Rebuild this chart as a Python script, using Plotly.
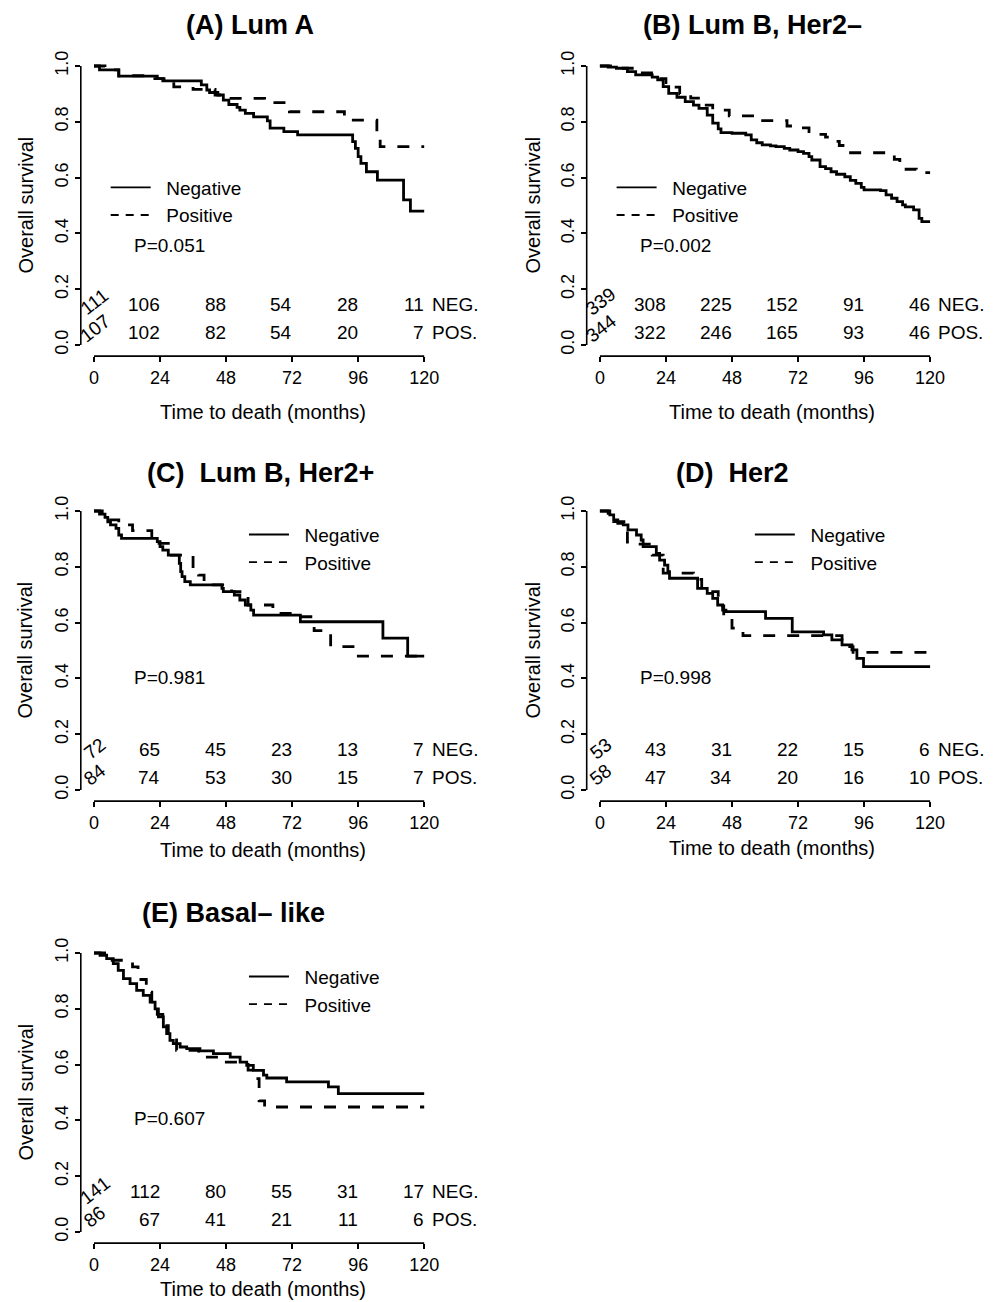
import plotly.graph_objects as go

# The page body has an 8px default margin, so the figure is sized to fill the rest of the window.
OFF = 8
W, H = 1000 - OFF, 1302 - OFF

# ---------------- data ----------------
x_ticks = [0, 24, 48, 72, 96, 120]
y_ticks = [0.0, 0.2, 0.4, 0.6, 0.8, 1.0]

# (A) Lum A
a_neg_t = [0, 2, 9, 23, 25, 39, 41, 42, 45, 47, 49, 52, 53, 55, 58, 63, 64, 69, 74, 94, 95, 96, 97, 99, 103, 112.5, 115, 120]
a_neg_s = [1.0, 0.986, 0.964, 0.955, 0.947, 0.932, 0.914, 0.905, 0.896, 0.878, 0.862, 0.852, 0.842, 0.83, 0.818, 0.803, 0.777, 0.765, 0.753, 0.729, 0.705, 0.675, 0.651, 0.621, 0.591, 0.52, 0.48, 0.48]
a_pos_t = [0, 4, 9, 20, 29, 36, 44, 48, 62, 71, 91, 102.8, 104, 120]
a_pos_s = [1.0, 0.986, 0.965, 0.955, 0.925, 0.916, 0.896, 0.884, 0.869, 0.836, 0.806, 0.75, 0.711, 0.711]
a_neg_risk = [111, 106, 88, 54, 28, 11]
a_pos_risk = [107, 102, 82, 54, 20, 7]

# (B) Lum B, Her2-
b_neg_t = [0, 3, 6, 10, 13, 19, 21, 23, 25, 28, 31, 34, 36, 39, 41, 43, 44, 48, 53, 55, 57, 59, 62, 64, 67, 69, 72, 74, 76, 77, 80, 82, 84, 86, 89, 91, 93, 95, 96, 102, 104, 106, 108, 110, 111, 114, 116, 117, 120]
b_neg_s = [1.0, 0.996, 0.992, 0.98, 0.968, 0.96, 0.95, 0.926, 0.902, 0.888, 0.872, 0.86, 0.848, 0.824, 0.795, 0.775, 0.761, 0.759, 0.753, 0.735, 0.725, 0.717, 0.714, 0.711, 0.705, 0.699, 0.693, 0.687, 0.675, 0.663, 0.639, 0.632, 0.621, 0.612, 0.603, 0.59, 0.579, 0.565, 0.556, 0.553, 0.538, 0.526, 0.514, 0.502, 0.495, 0.484, 0.454, 0.442, 0.442]
b_pos_t = [0, 5, 13, 21, 24, 29, 33, 38, 41, 47, 57, 68, 72, 76, 78, 82, 85, 87, 90, 105, 107, 109, 115, 120]
b_pos_s = [1.0, 0.992, 0.975, 0.955, 0.924, 0.9, 0.885, 0.86, 0.842, 0.821, 0.804, 0.785, 0.778, 0.765, 0.755, 0.745, 0.73, 0.715, 0.689, 0.68, 0.665, 0.63, 0.618, 0.618]
b_neg_risk = [339, 308, 225, 152, 91, 46]
b_pos_risk = [344, 322, 246, 165, 93, 46]

# (C) Lum B, Her2+
c_neg_t = [0, 2, 4, 5, 6, 8, 9, 10, 12, 23, 24, 25, 27, 30, 31, 31.5, 32, 33, 35, 46.5, 47, 51, 53, 55, 57, 58, 59, 75, 105, 114, 120]
c_neg_s = [1.0, 0.989, 0.977, 0.961, 0.95, 0.938, 0.914, 0.902, 0.902, 0.89, 0.872, 0.86, 0.842, 0.842, 0.812, 0.783, 0.765, 0.747, 0.735, 0.723, 0.711, 0.699, 0.681, 0.663, 0.645, 0.627, 0.627, 0.603, 0.544, 0.48, 0.48]
c_pos_t = [0, 3, 6, 9, 14, 21, 27, 36, 38, 40, 50, 56, 65, 67, 75, 80, 86, 95, 120]
c_pos_s = [1.0, 0.985, 0.968, 0.95, 0.93, 0.884, 0.842, 0.79, 0.77, 0.735, 0.711, 0.663, 0.657, 0.633, 0.621, 0.571, 0.514, 0.48, 0.48]
c_neg_risk = [72, 65, 45, 23, 13, 7]
c_pos_risk = [84, 74, 53, 30, 15, 7]

# (D) Her2
d_neg_t = [0, 3.6, 5, 6.5, 8.5, 10.2, 13.3, 15, 15.7, 20.5, 21.7, 23.5, 24.7, 25.3, 35.5, 39, 41, 42.8, 44.6, 45.8, 60.2, 69.9, 81.3, 84.3, 88, 91.6, 93.4, 95.8, 120]
d_neg_s = [1.0, 0.986, 0.968, 0.956, 0.95, 0.932, 0.914, 0.896, 0.872, 0.848, 0.824, 0.806, 0.783, 0.759, 0.723, 0.705, 0.687, 0.663, 0.645, 0.639, 0.615, 0.567, 0.556, 0.538, 0.52, 0.502, 0.472, 0.442, 0.442]
d_pos_t = [0, 3, 5, 10, 19, 23, 34, 37, 43, 45, 48, 52, 88, 92, 120]
d_pos_s = [1.0, 0.98, 0.962, 0.881, 0.842, 0.777, 0.755, 0.711, 0.66, 0.62, 0.58, 0.553, 0.514, 0.493, 0.493]
d_neg_risk = [53, 43, 31, 22, 15, 6]
d_pos_risk = [58, 47, 34, 20, 16, 10]

# (E) Basal-like
e_neg_t = [0, 2.2, 4.6, 7, 8.8, 10.7, 13.1, 15.5, 17.9, 20.4, 22.2, 23.4, 25.2, 26.4, 27.6, 28.8, 31.3, 33.7, 38.5, 43.4, 49.5, 53.1, 55.5, 57.9, 61.6, 62.8, 70, 85.2, 88.8, 120]
e_neg_s = [1.0, 0.992, 0.98, 0.962, 0.938, 0.908, 0.89, 0.866, 0.848, 0.824, 0.8, 0.771, 0.735, 0.711, 0.687, 0.675, 0.663, 0.657, 0.649, 0.639, 0.627, 0.609, 0.597, 0.579, 0.562, 0.552, 0.538, 0.52, 0.496, 0.496]
e_pos_t = [0, 6, 14, 16, 19, 21, 23, 25, 27, 30, 38, 47, 56, 58, 60, 62, 120]
e_pos_s = [1.0, 0.974, 0.95, 0.905, 0.86, 0.82, 0.78, 0.74, 0.7, 0.651, 0.627, 0.609, 0.58, 0.55, 0.47, 0.448, 0.448]
e_neg_risk = [141, 112, 80, 55, 31, 17]
e_pos_risk = [86, 67, 41, 21, 11, 6]

titles = ["(A) Lum A", "(B) Lum B, Her2\u2013", "(C)\u00a0 Lum B, Her2+", "(D)\u00a0 Her2", "(E) Basal\u2013 like"]
p_values = ["P=0.051", "P=0.002", "P=0.981", "P=0.998", "P=0.607"]
group_names = ["Negative", "Positive"]
risk_labels = ["NEG.", "POS."]

# ---------------- layout geometry (reference-window pixels) ----------------
FONT = "Liberation Sans, Arial, Helvetica, sans-serif"
panels = [
    dict(l=80.8, t=54.84, data=(a_neg_t, a_neg_s, a_pos_t, a_pos_s, a_neg_risk, a_pos_risk),
         title_xy=(250, None), xt_xy=(263, 412), yt_x=25, leg=(4.25, 0.5145), p_y=0.355, rot_y=(0.155, 0.06)),
    dict(l=586.7, t=54.84, data=(b_neg_t, b_neg_s, b_pos_t, b_pos_s, b_neg_risk, b_pos_risk),
         title_xy=(752, None), xt_xy=(772, 412), yt_x=532, leg=(4.25, 0.5145), p_y=0.355, rot_y=(0.155, 0.06)),
    dict(l=80.8, t=499.84, data=(c_neg_t, c_neg_s, c_pos_t, c_pos_s, c_neg_risk, c_pos_risk),
         title_xy=(260, 473), xt_xy=(263, 850), yt_x=24, leg=(54.5, 0.865), p_y=0.405, rot_y=(0.15, 0.055)),
    dict(l=586.7, t=499.84, data=(d_neg_t, d_neg_s, d_pos_t, d_pos_s, d_neg_risk, d_pos_risk),
         title_xy=(732, 473), xt_xy=(772, 848), yt_x=532, leg=(54.5, 0.865), p_y=0.405, rot_y=(0.15, 0.055)),
    dict(l=80.8, t=941.84, data=(e_neg_t, e_neg_s, e_pos_t, e_pos_s, e_neg_risk, e_pos_risk),
         title_xy=(233, 913), xt_xy=(263, None), yt_x=25, leg=(54.5, 0.865), p_y=0.408, rot_y=(0.15, 0.055)),
]
PW, PH = 356.6, 301.32


def px_x(v):
    return (v - OFF) / W


def px_y(v):
    return 1 - (v - OFF) / H


fig = go.Figure()
layout = dict(width=W, height=H, margin=dict(l=0, r=0, t=0, b=0, pad=0, autoexpand=False),
              paper_bgcolor="white", plot_bgcolor="white", showlegend=True,
              font=dict(family=FONT, color="black"))
annotations, shapes = [], []
TXT = dict(size=19, family=FONT, color="black")

for i, p in enumerate(panels):
    n = i + 1
    sfx = "" if n == 1 else str(n)
    xa, ya = "x" + sfx, "y" + sfx
    leg = "legend" + sfx
    neg_t, neg_s, pos_t, pos_s, neg_r, pos_r = p["data"]
    x0 = px_x(p["l"])
    x1 = px_x(p["l"] + PW)
    y1 = px_y(p["t"])
    y0 = px_y(p["t"] + PH)

    fig.add_trace(go.Scatter(x=neg_t, y=neg_s, mode="lines", line=dict(color="black", width=2.8, shape="hv"),
                             xaxis=xa, yaxis=ya, showlegend=False, hoverinfo="skip"))
    fig.add_trace(go.Scatter(x=pos_t, y=pos_s, mode="lines",
                             line=dict(color="black", width=2.8, shape="hv", dash="12px,12px"),
                             xaxis=xa, yaxis=ya, showlegend=False, hoverinfo="skip"))
    # legend entries (thin lines as in the reference legend)
    fig.add_trace(go.Scatter(x=[None], y=[None], mode="lines", name="\u00a0\u00a0" + group_names[0],
                             line=dict(color="black", width=1.8), xaxis=xa, yaxis=ya, legend=leg))
    fig.add_trace(go.Scatter(x=[None], y=[None], mode="lines", name="\u00a0\u00a0" + group_names[1],
                             line=dict(color="black", width=1.8, dash="8px,7px"), xaxis=xa, yaxis=ya, legend=leg))

    lx = x0 + (p["leg"][0] + 4.8) / 129.6 * (x1 - x0)
    ly = y0 + (p["leg"][1] + 0.04) / 1.08 * (y1 - y0)
    layout[leg] = dict(x=lx, y=ly, xanchor="left", yanchor="middle", bgcolor="rgba(0,0,0,0)",
                       font=TXT, tracegroupgap=0, itemwidth=40, borderwidth=0)

    layout["xaxis" + sfx] = dict(domain=[x0, x1], anchor=ya, range=[-4.8, 124.8], tickvals=x_ticks,
                                 ticks="outside", ticklen=5, tickwidth=1.6, tickcolor="black",
                                 showgrid=False, zeroline=False, showline=False, automargin=False,
                                 tickfont=dict(size=18, family=FONT, color="black"), fixedrange=True)
    layout["yaxis" + sfx] = dict(domain=[y0, y1], anchor=xa, range=[-0.04, 1.04], tickvals=y_ticks,
                                 tickformat=".1f", tickangle=-90, automargin=False,
                                 ticks="outside", ticklen=5, tickwidth=1.6, tickcolor="black",
                                 showgrid=False, zeroline=False, showline=False,
                                 tickfont=dict(size=18, family=FONT, color="black"), fixedrange=True)

    # R-style detached axis lines
    shapes.append(dict(type="line", xref=xa, yref=ya + " domain", x0=x_ticks[0], x1=x_ticks[-1], y0=0, y1=0,
                       line=dict(color="black", width=1.6)))
    shapes.append(dict(type="line", xref=xa + " domain", yref=ya, x0=0, x1=0, y0=y_ticks[0], y1=y_ticks[-1],
                       line=dict(color="black", width=1.6)))

    # panel title (top row anchored to the top edge so it stays inside the page)
    tx_, ty_ = p["title_xy"]
    if ty_ is None:
        tpos = dict(y=1.0, yanchor="top")
    else:
        tpos = dict(y=px_y(ty_), yanchor="middle")
    annotations.append(dict(text="<b>" + titles[i] + "</b>", xref="paper", yref="paper",
                            x=px_x(tx_), showarrow=False, xanchor="center",
                            font=dict(size=27, family=FONT, color="black"), **tpos))
    xx_, xy_ = p["xt_xy"]
    if xy_ is None:
        xpos = dict(y=0.0, yanchor="bottom")
    else:
        xpos = dict(y=px_y(xy_), yanchor="middle")
    annotations.append(dict(text="Time to death (months)", xref="paper", yref="paper",
                            x=px_x(xx_), showarrow=False, xanchor="center",
                            font=dict(size=20, family=FONT, color="black"), **xpos))
    annotations.append(dict(text="Overall survival", xref="paper", yref=ya + " domain",
                            x=px_x(p["yt_x"]), y=0.5, showarrow=False, textangle=-90,
                            xanchor="center", yanchor="middle", font=dict(size=20, family=FONT, color="black")))
    annotations.append(dict(text=p_values[i], xref=xa, yref=ya, x=13.8, y=p["p_y"], showarrow=False,
                            xanchor="left", yanchor="middle", font=TXT))
    # numbers at risk
    for row, (risk, yv, ry) in enumerate([(neg_r, 0.145, p["rot_y"][0]), (pos_r, 0.044, p["rot_y"][1])]):
        for j, (tx, v) in enumerate(zip(x_ticks, risk)):
            if j == 0:
                annotations.append(dict(text=str(v), xref=xa, yref=ya, x=tx + 0.3, y=ry, showarrow=False,
                                        textangle=-38, xanchor="center", yanchor="middle", font=TXT))
            else:
                annotations.append(dict(text=str(v), xref=xa, yref=ya, x=tx, y=yv, showarrow=False,
                                        xanchor="right", yanchor="middle", xshift=2, font=TXT))
        annotations.append(dict(text=risk_labels[row], xref=xa, yref=ya, x=x_ticks[-1], y=yv, showarrow=False,
                                xanchor="left", yanchor="middle", xshift=6, font=TXT))

layout["annotations"] = annotations
layout["shapes"] = shapes
fig.update_layout(**layout)
fig.write_html("out.html")
